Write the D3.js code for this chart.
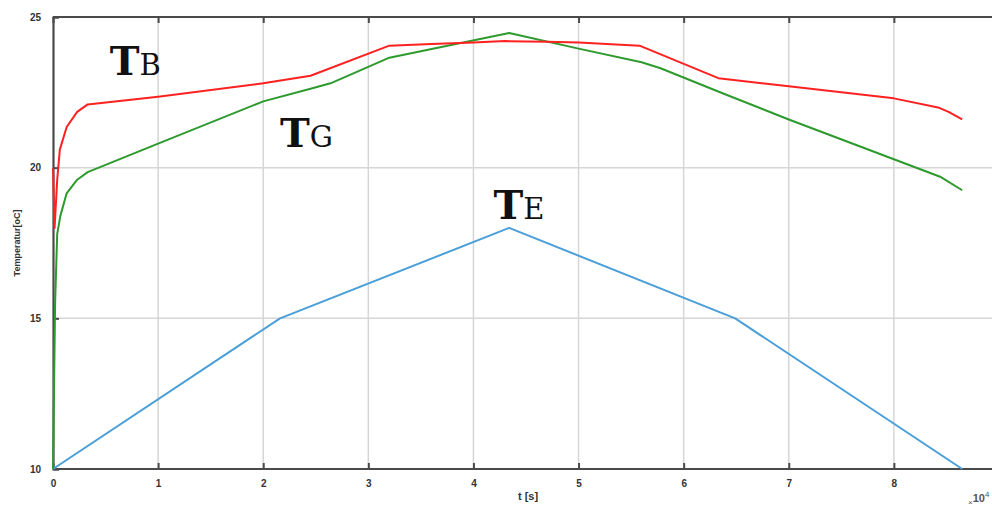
<!DOCTYPE html>
<html><head><meta charset="utf-8">
<script src="https://cdn.jsdelivr.net/npm/d3@7"></script>
<style>body{margin:0;background:#fff}svg{display:block}</style>
</head><body>
<script>
// Time in units of 10^4 s
const timeB = [0, 0.015, 0.04, 0.065, 0.13, 0.23, 0.33, 1.0, 2.0, 2.45, 3.2, 3.6, 4.0, 4.3, 4.7, 5.0, 5.58, 6.33, 7.0, 8.0, 8.42, 8.52, 8.65];
const tempB = [20, 18.0, 19.6, 20.6, 21.35, 21.85, 22.1, 22.35, 22.8, 23.05, 24.05, 24.1, 24.15, 24.2, 24.18, 24.15, 24.05, 22.97, 22.7, 22.3, 22.0, 21.85, 21.6];
const timeG = [0, 0.02, 0.04, 0.07, 0.13, 0.23, 0.33, 1.0, 2.0, 2.45, 2.64, 3.2, 4.34, 5.0, 5.6, 5.78, 6.37, 7.0, 8.0, 8.44, 8.65];
const tempG = [10, 15.5, 17.8, 18.4, 19.15, 19.6, 19.85, 20.8, 22.2, 22.62, 22.8, 23.65, 24.47, 23.95, 23.5, 23.3, 22.47, 21.6, 20.28, 19.7, 19.25];
const timeE = [0, 2.16, 4.34, 6.49, 8.65];
const tempE = [10, 15, 18, 15, 10];
const xTicks = [0, 1, 2, 3, 4, 5, 6, 7, 8];
const yTicks = [10, 15, 20, 25];
const seriesColors = ["#ff2020", "#2e9a2e", "#4a9fd8"];
const seriesLabels = [["T", "B"], ["T", "G"], ["T", "E"]];
const labelPos = [[0.54, 23.07], [2.16, 20.68], [4.19, 18.3]];

const W = 992, H = 507;
const svg = d3.select("body").append("svg").attr("width", W).attr("height", H);
const x = d3.scaleLinear().domain([0, 9]).range([53, 999]);
const y = d3.scaleLinear().domain([10, 25]).range([469, 17]);

// gridlines
svg.append("g").selectAll("line").data(xTicks.slice(1)).join("line")
  .attr("x1", d => x(d)).attr("x2", d => x(d)).attr("y1", y(25)).attr("y2", y(10))
  .attr("stroke", "#d6d6d6").attr("stroke-width", 1.5);
svg.append("g").selectAll("line").data([15, 20]).join("line")
  .attr("x1", x(0)).attr("x2", W).attr("y1", d => y(d)).attr("y2", d => y(d))
  .attr("stroke", "#d6d6d6").attr("stroke-width", 1.5);

// axes
const axisColor = "#4a4a4a";
const gBottom = svg.append("g").attr("transform", `translate(0,${y(10)})`)
  .call(d3.axisBottom(x).tickValues(xTicks).tickSize(-6).tickPadding(11).tickFormat(d3.format("d")));
const gTop = svg.append("g").attr("transform", `translate(0,${y(25)})`)
  .call(d3.axisTop(x).tickValues(xTicks).tickSize(-6).tickFormat(""));
const gLeft = svg.append("g").attr("transform", `translate(${x(0)},0)`)
  .call(d3.axisLeft(y).tickValues(yTicks).tickSize(-6).tickPadding(12).tickFormat(d3.format("d")));
[gBottom, gTop, gLeft].forEach(g => {
  g.select(".domain").attr("stroke", axisColor).attr("stroke-width", 2.2);
  g.selectAll(".tick line").attr("stroke", axisColor).attr("stroke-width", 2);
  g.selectAll("text").attr("fill", "#333").attr("font-family", "Liberation Sans, Arial, sans-serif")
    .attr("font-size", 10).attr("font-weight", "bold");
});
gBottom.select(".domain").attr("d", `M${x(0)},0H${W}`);
gTop.select(".domain").attr("d", `M${x(0)},0H${W}`);

// series
const line = d3.line().x(d => x(d[0])).y(d => y(d[1]));
const series = [
  d3.zip(timeE, tempE),
  d3.zip(timeG, tempG),
  d3.zip(timeB, tempB)
];
const cols = [seriesColors[2], seriesColors[1], seriesColors[0]];
series.forEach((s, i) => {
  svg.append("path").datum(s).attr("d", line).attr("fill", "none")
    .attr("stroke", cols[i]).attr("stroke-width", 2).attr("stroke-linejoin", "round");
});

// labels
seriesLabels.forEach((lab, i) => {
  const t = svg.append("text").attr("x", x(labelPos[i][0])).attr("y", y(labelPos[i][1]))
    .attr("font-family", "DejaVu Serif, serif").attr("fill", "#111");
  t.append("tspan").text(lab[0]).attr("font-size", 40).attr("font-weight", "bold");
  t.append("tspan").text(lab[1]).attr("font-size", 29);
});

// axis labels
svg.append("text").attr("x", 528).attr("y", 500).attr("text-anchor", "middle")
  .attr("font-family", "Liberation Sans, Arial, sans-serif").attr("font-size", 11).attr("font-weight", "bold")
  .attr("fill", "#333").text("t [s]");
svg.append("text").attr("transform", "translate(20,243) rotate(-90)").attr("text-anchor", "middle")
  .attr("font-family", "Liberation Sans, Arial, sans-serif").attr("font-size", 9).attr("font-weight", "bold")
  .attr("fill", "#333").text("Temperatur[oC]");
const ex = svg.append("text").attr("x", 968).attr("y", 505)
  .attr("font-family", "Liberation Sans, Arial, sans-serif").attr("fill", "#555");
ex.append("tspan").text("×").attr("font-size", 8);
ex.append("tspan").text("10").attr("font-size", 11).attr("font-weight", "bold").attr("dy", -3);
ex.append("tspan").text("4").attr("font-size", 8).attr("dy", -5);
</script>
</body></html>
